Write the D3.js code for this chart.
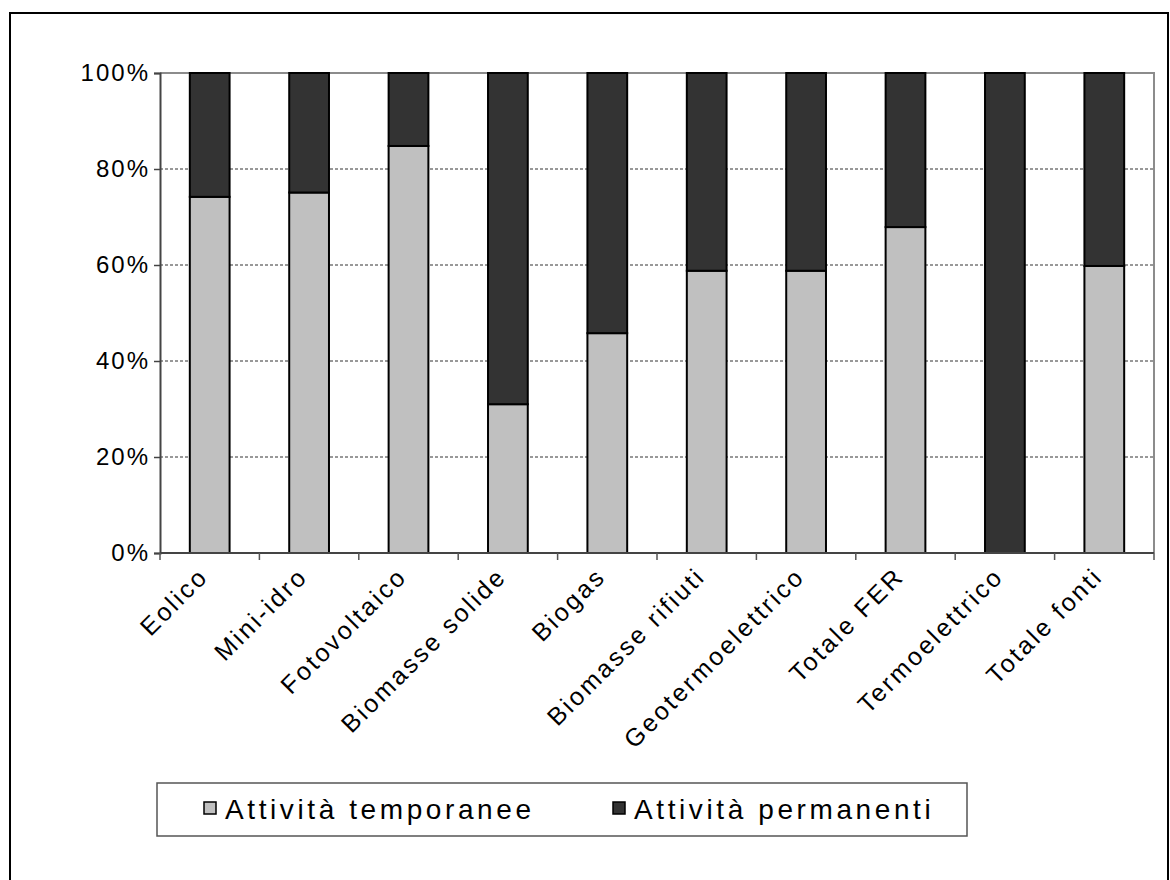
<!DOCTYPE html>
<html>
<head>
<meta charset="utf-8">
<script src="https://cdn.jsdelivr.net/npm/d3@7"></script>
<style>
  html, body { margin: 0; padding: 0; background: #fff; }
  svg { display: block; font-family: "Liberation Sans", Arial, sans-serif; }
</style>
</head>
<body>
<svg id="chart" width="1170" height="880"></svg>
<script>
// Categories of electricity sources
const categories = ["Eolico", "Mini-idro", "Fotovoltaico", "Biomasse solide", "Biogas",
  "Biomasse rifiuti", "Geotermoelettrico", "Totale FER", "Termoelettrico", "Totale fonti"];
// Share of temporary activities (%)
const temporanee = [74.2, 75.1, 84.8, 31.0, 45.8, 58.8, 58.8, 67.9, 0, 59.8];
// Share of permanent activities (%)
const permanenti = [25.8, 24.9, 15.2, 69.0, 54.2, 41.2, 41.2, 32.1, 100, 40.2];
const seriesNames = ["Attività temporanee", "Attività permanenti"];
const seriesColors = ["#c0c0c0", "#333333"];
const yTicks = [0, 20, 40, 60, 80, 100];

const svg = d3.select("#chart");

// outer frame
svg.append("rect")
  .attr("x", 10).attr("y", 13).attr("width", 1158).attr("height", 900)
  .attr("fill", "none").attr("stroke", "#000").attr("stroke-width", 2);

const plotLeft = 160, plotRight = 1154, plotTop = 73, plotBottom = 553;

const x = d3.scaleBand().domain(categories).range([plotLeft, plotRight]).paddingInner(0.6).paddingOuter(0.3);
const xb = d3.scaleBand().domain(categories).range([plotLeft, plotRight]);
const y = d3.scaleLinear().domain([0, 100]).range([plotBottom, plotTop]);

// gridlines
svg.append("g").selectAll("line")
  .data(yTicks.filter(t => t > 0 && t < 100))
  .join("line")
  .attr("x1", plotLeft).attr("x2", plotRight)
  .attr("y1", d => y(d)).attr("y2", d => y(d))
  .attr("stroke", "#333").attr("stroke-width", 1)
  .attr("stroke-dasharray", "3,2");

// plot border (top and right)
svg.append("path")
  .attr("d", `M${plotLeft},${y(100)}H${plotRight}V${plotBottom}`)
  .attr("fill", "none").attr("stroke", "#8c8c8c").attr("stroke-width", 2);

// stacked bars
const rows = categories.map((c, i) => ({ cat: c, values: [temporanee[i], permanenti[i]] }));
const stacked = d3.stack().keys([0, 1]).value((d, k) => d.values[k])(rows);

svg.append("g").selectAll("g")
  .data(stacked)
  .join("g")
  .attr("fill", (d, i) => seriesColors[i])
  .selectAll("rect")
  .data(d => d.filter(s => s[1] - s[0] > 0))
  .join("rect")
  .attr("x", d => x(d.data.cat))
  .attr("width", x.bandwidth())
  .attr("y", d => y(d[1]))
  .attr("height", d => y(d[0]) - y(d[1]))
  .attr("stroke", "#000").attr("stroke-width", 2);

// y axis
const yAxis = svg.append("g")
  .attr("transform", `translate(${plotLeft},0)`)
  .call(d3.axisLeft(y).tickValues(yTicks).tickFormat(d => d + "%").tickSize(6).tickPadding(4));
yAxis.select(".domain").attr("stroke", "#444").attr("stroke-width", 2);
yAxis.selectAll(".tick line").attr("stroke", "#444").attr("stroke-width", 1.5);
yAxis.selectAll(".tick text").attr("font-size", 24).attr("letter-spacing", 2).attr("fill", "#000")
  .attr("font-family", "Liberation Sans, Arial, sans-serif");

// x axis line with ticks on category boundaries
const xg = svg.append("g");
xg.append("line").attr("x1", plotLeft).attr("x2", plotRight).attr("y1", plotBottom).attr("y2", plotBottom)
  .attr("stroke", "#444").attr("stroke-width", 2);
const boundaries = categories.map(c => xb(c)).concat([plotRight]);
xg.selectAll("line.tk").data(boundaries).join("line").attr("class", "tk")
  .attr("x1", d => d).attr("x2", d => d)
  .attr("y1", plotBottom).attr("y2", plotBottom + 7)
  .attr("stroke", "#555").attr("stroke-width", 1.5);

// rotated category labels
xg.selectAll("text").data(categories).join("text")
  .attr("transform", d => `translate(${xb(d) + xb.bandwidth() / 2},${plotBottom + 25}) rotate(-45)`)
  .attr("text-anchor", "end")
  .attr("font-size", 25)
  .attr("letter-spacing", 2.6)
  .attr("fill", "#000")
  .text(d => d);

// legend
const lg = svg.append("g");
lg.append("rect").attr("x", 157).attr("y", 783).attr("width", 810).attr("height", 53)
  .attr("fill", "#fff").attr("stroke", "#555").attr("stroke-width", 1.5);
const legendX = [204, 613];
seriesNames.forEach((name, i) => {
  lg.append("rect").attr("x", legendX[i]).attr("y", 802).attr("width", 12).attr("height", 12)
    .attr("fill", seriesColors[i]).attr("stroke", "#000").attr("stroke-width", 1.5);
  lg.append("text").attr("x", legendX[i] + 21).attr("y", 819)
    .attr("font-size", 28).attr("letter-spacing", 3.6).attr("fill", "#000")
    .text(name);
});
</script>
</body>
</html>
